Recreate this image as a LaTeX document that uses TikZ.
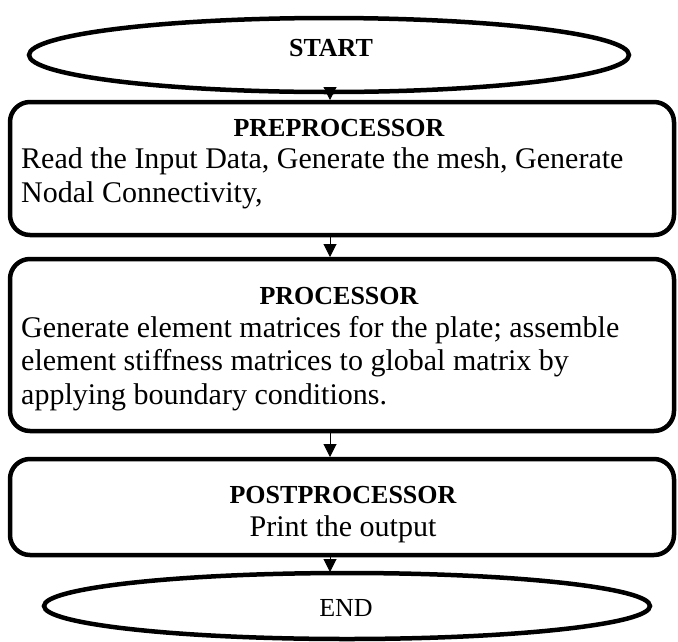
\documentclass[tikz,border=0pt]{standalone}
\usepackage{fontspec}
\setmainfont{Liberation Serif}
\usetikzlibrary{shapes.geometric,arrows.meta}
\begin{document}
\begin{tikzpicture}[x=1pt,y=-1pt,
  box/.style={draw,line width=4.5pt,rounded corners=20pt,minimum width=664pt,inner sep=0pt},
  oval/.style={draw,ellipse,line width=4.5pt,inner sep=0pt},
  title/.style={font=\fontsize{26}{30}\selectfont\bfseries,inner sep=0pt,text height=0.7em,text depth=0.2em},
  body/.style={font=\fontsize{30}{34}\selectfont,inner sep=0pt,text height=0.7em,text depth=0.2em},
  arr/.style={line width=1pt,-{Triangle[width=13pt,length=13pt]},shorten >=1pt}]
\useasboundingbox (0,0) rectangle (678,641);
\node[oval,minimum width=600pt,minimum height=74pt] (start) at (329,55) {};
\node[title] (tstart) at (331,54) {START};
\node[box,minimum height=133pt] (pre) at (342,168.5) {};
\node[title] (tpre) at (339,134) {PREPROCESSOR};
\node[body,anchor=west] (pre1) at (21,166) {Read the Input Data, Generate the mesh, Generate};
\node[body,anchor=west] (pre2) at (21,199.5) {Nodal Connectivity,};
\node[box,minimum height=172pt] (pro) at (342,345) {};
\node[title] (tpro) at (339,302) {PROCESSOR};
\node[body,anchor=west] (pro1) at (21,335) {Generate element matrices for the plate; assemble};
\node[body,anchor=west] (pro2) at (21,368) {element stiffness matrices to global matrix by};
\node[body,anchor=west] (pro3) at (21,402) {applying boundary conditions.};
\node[box,minimum height=96pt] (post) at (342,507) {};
\node[title] (tpost) at (343,501) {POSTPROCESSOR};
\node[body] (post1) at (343,534) {Print the output};
\node[oval,minimum width=606pt,minimum height=66pt] (end) at (347,606) {};
\node[body,font=\fontsize{26}{30}\selectfont] (tend) at (346,614) {END};
\draw[arr] (start.south -| 330,0) -- (330,101);
\draw[arr] (330,236) -- (330,258);
\draw[arr] (330,432) -- (330,458);
\draw[arr] (330,556) -- (330,573);
\end{tikzpicture}
\end{document}
